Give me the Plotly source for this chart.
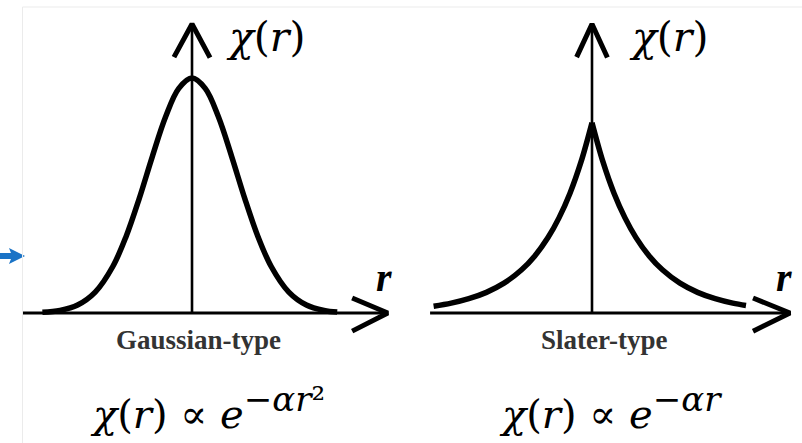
import plotly.graph_objects as go

# Sampled radial profiles (r in arbitrary units, chi normalised to the Gaussian peak)
GAUSS_R = [-3.4, -3.0, -2.6, -2.2, -1.8, -1.5, -1.2, -0.9, -0.6, -0.3, 0.0,
           0.3, 0.6, 0.9, 1.2, 1.5, 1.8, 2.2, 2.6, 3.0, 3.3]
GAUSS_CHI = [0.003, 0.011, 0.034, 0.089, 0.198, 0.325, 0.487, 0.667, 0.835, 0.956, 1.0,
             0.956, 0.835, 0.667, 0.487, 0.325, 0.198, 0.089, 0.034, 0.011, 0.004]

SLATER_R_LEFT = [-3.6, -3.2, -2.8, -2.4, -2.0, -1.6, -1.3, -1.0, -0.75, -0.5, -0.25, 0.0]
SLATER_CHI_LEFT = [0.029, 0.042, 0.061, 0.088, 0.127, 0.184, 0.243, 0.321, 0.405, 0.510, 0.643, 0.81]
SLATER_R_RIGHT = [0.0, 0.25, 0.5, 0.75, 1.0, 1.3, 1.6, 2.0, 2.4, 2.8, 3.2, 3.5]
SLATER_CHI_RIGHT = [0.81, 0.643, 0.510, 0.405, 0.321, 0.243, 0.184, 0.127, 0.088, 0.061, 0.042, 0.032]

PANEL_NAMES = ["Gaussian-type", "Slater-type"]
EXPONENTS = ["−<i>αr</i>²", "−<i>αr</i>"]

W, H = 802, 443
SERIF = "Liberation Serif, serif"
MATH = "DejaVu Serif, serif"

fig = go.Figure()


def line(xs, ys, xa, ya, width, shape="linear"):
    fig.add_trace(go.Scatter(
        x=xs, y=ys, xaxis=xa, yaxis=ya, mode="lines",
        line=dict(color="black", width=width, shape=shape, smoothing=1.0),
        hoverinfo="skip", showlegend=False,
    ))


def axes_arrows(xa, ya, r_start, r_tip, arm_r, arm_dx):
    # horizontal r axis with open arrow head
    line([r_start, r_tip], [0, 0], xa, ya, 3)
    line([arm_r, r_tip, arm_r], [0.064, 0, -0.077], xa, ya, 5)
    # vertical chi axis with open arrow head
    line([0, 0], [0, 1.23], xa, ya, 2.6)
    line([-arm_dx, 0, arm_dx], [1.089, 1.23, 1.087], xa, ya, 5)


# Gaussian panel
axes_arrows("x", "y", -3.86, 4.45, 3.64, 0.41)
line(GAUSS_R, GAUSS_CHI, "x", "y", 5.5, "spline")

# Slater panel (two branches meeting in a cusp)
axes_arrows("x2", "y2", -3.68, 4.5, 3.66, 0.35)
line(SLATER_R_LEFT, SLATER_CHI_LEFT, "x2", "y2", 5.5, "spline")
line(SLATER_R_RIGHT, SLATER_CHI_RIGHT, "x2", "y2", 5.5, "spline")

annotations = []
for i, (xr, yr) in enumerate([("x", "y"), ("x2", "y2")]):
    annotations.append(dict(x=1.68 if i == 0 else 1.75, y=1.175, xref=xr, yref=yr,
                            text="<i>χ</i>(<i>r</i>)", showarrow=False,
                            font=dict(family=MATH, size=41, color="black")))
    annotations.append(dict(x=4.36, y=0.15, xref=xr, yref=yr,
                            text="<b><i>r</i></b>", showarrow=False,
                            font=dict(family=SERIF, size=40, color="black")))
    annotations.append(dict(x=0.14 if i == 0 else 0.27, y=-0.115, xref=xr, yref=yr,
                            text="<b>" + PANEL_NAMES[i] + "</b>", showarrow=False,
                            font=dict(family=SERIF, size=27, color="#333333")))
    formula = ("<i>χ</i>(<i>r</i>) ∝ <i>e</i><sup><span style='font-size:34px'>"
               + EXPONENTS[i] + "</span></sup>")
    annotations.append(dict(x=0.35 if i == 0 else 0.41, y=-0.405, xref=xr, yref=yr,
                            text=formula, showarrow=False,
                            font=dict(family=MATH, size=40, color="black")))


def px(x, y):
    return x / W, 1 - y / H


# small blue pointer on the left edge
pts = [(0, 253), (11, 253), (9, 248), (25, 256), (9, 264), (11, 259), (0, 259)]
path = "M " + " L ".join("%.4f,%.4f" % px(x, y) for x, y in pts) + " Z"
shapes = [
    dict(type="path", path=path, xref="paper", yref="paper",
         fillcolor="#1a73c6", line=dict(width=0)),
    # faint frame lines
    dict(type="line", xref="paper", yref="paper",
         x0=px(22.5, 7)[0], y0=px(22.5, 7)[1], x1=1, y1=px(22.5, 7)[1],
         line=dict(color="#ebebeb", width=1)),
    dict(type="line", xref="paper", yref="paper",
         x0=px(22.5, 7)[0], y0=px(22.5, 7)[1], x1=px(22.5, 443)[0], y1=0,
         line=dict(color="#ebebeb", width=1)),
]

hidden = dict(visible=False, fixedrange=True)
fig.update_layout(
    width=W, height=H, autosize=False,
    margin=dict(l=0, r=0, t=0, b=0, pad=0),
    paper_bgcolor="white", plot_bgcolor="white",
    xaxis=dict(domain=[0, 0.5], range=[-4.364, 4.75], **hidden),
    xaxis2=dict(domain=[0.5, 1], range=[-4.341, 4.773], **hidden),
    yaxis=dict(domain=[0, 1], range=[-0.553, 1.332], anchor="x", **hidden),
    yaxis2=dict(domain=[0, 1], range=[-0.553, 1.332], anchor="x2", **hidden),
    annotations=annotations, shapes=shapes,
    showlegend=False,
)

fig.write_html("out.html", config={"displayModeBar": False})
